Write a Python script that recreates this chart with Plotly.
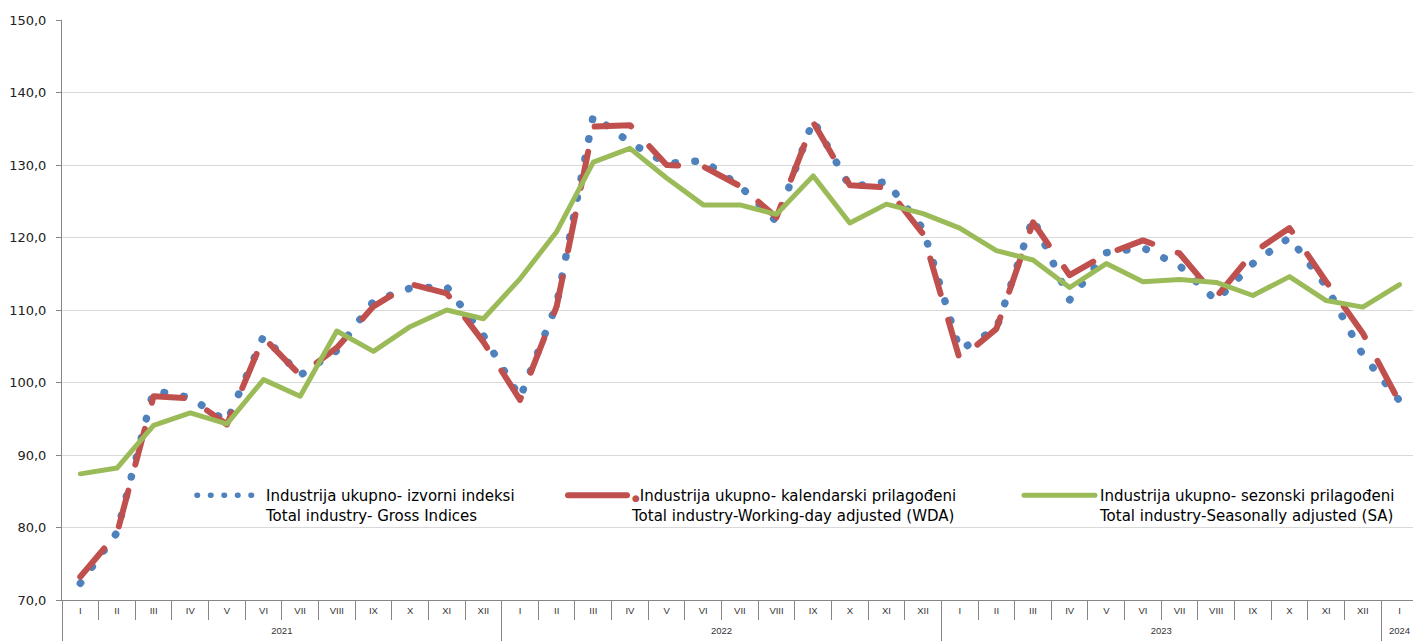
import plotly.graph_objects as go
import numpy as np

# ---------------- data ----------------
months = ["I", "II", "III", "IV", "V", "VI", "VII", "VIII", "IX", "X", "XI", "XII"] * 3 + ["I"]
years = ["2021"] * 12 + ["2022"] * 12 + ["2023"] * 12 + ["2024"]

gross = [72.3, 79.3, 98.9, 97.9, 94.6, 106.4, 101.0, 104.4, 111.2, 113.0, 113.2, 106.5,
         97.9, 110.8, 136.8, 133.1, 130.2, 130.6, 127.1, 122.2, 136.2, 127.0, 127.7, 121.2,
         104.5, 107.4, 122.7, 111.4, 117.9, 118.6, 116.1, 111.3, 116.4, 120.0, 113.3, 103.8,
         97.5]

wda = [73.2, 79.2, 98.1, 97.8, 94.2, 106.2, 101.0, 104.8, 110.5, 113.6, 112.3, 105.6,
       97.6, 110.5, 135.3, 135.5, 130.0, 129.8, 127.1, 122.8, 135.9, 127.2, 126.9, 120.5,
       103.2, 107.4, 122.1, 114.8, 117.7, 119.6, 117.8, 111.8, 117.9, 121.3, 113.9, 106.8,
       97.3]

sa = [87.4, 88.2, 94.1, 95.8, 94.3, 100.4, 98.1, 107.1, 104.3, 107.7, 110.0, 108.8,
      114.3, 120.8, 130.4, 132.3, 128.2, 124.5, 124.5, 123.2, 128.5, 122.0, 124.6, 123.3,
      121.3, 118.2, 116.9, 113.1, 116.4, 113.9, 114.2, 113.8, 112.0, 114.6, 111.3, 110.4,
      113.5]

name_gross = "Industrija ukupno- izvorni indeksi<br>Total industry- Gross Indices"
name_wda = ("<span style='color:#C0504D;font-size:9px'>\u25CF</span>Industrija ukupno- kalendarski prilagođeni"
            "<br>Total industry-Working-day adjusted (WDA)")
name_sa = "Industrija ukupno- sezonski prilagođeni<br>Total industry-Seasonally adjusted (SA)"

BLUE = "#4F81BD"
RED = "#C0504D"
GREEN = "#9BBB59"
AX = "#868686"
GRID = "#D9D9D9"

n = len(months)
idx = np.arange(n)
xr = [-0.5, n - 0.63]

# year groups (derived from the years list)
year_labels = []
year_centers = []
year_bounds = []
for i, yv in enumerate(years):
    if i == 0 or yv != years[i - 1]:
        year_bounds.append(i - 0.5)
        year_labels.append(yv)
        members = [j for j in range(n) if years[j] == yv]
        year_centers.append(float(np.mean(members)))
year_bounds.append(n - 0.5)

fig = go.Figure()
fig.add_trace(go.Scatter(x=idx, y=gross, mode="lines", showlegend=False, hoverinfo="skip",
                         line=dict(color=BLUE, width=7.5, dash="0.5px,19.5px")))
fig.add_trace(go.Scatter(x=idx, y=wda, mode="lines", showlegend=False, hoverinfo="skip",
                         line=dict(color=RED, width=6, dash="37px,27px")))
fig.add_trace(go.Scatter(x=idx, y=sa, mode="lines", showlegend=False, hoverinfo="skip",
                         line=dict(color=GREEN, width=5)))

# legend-only entries (placed on the helper axes)
fig.add_trace(go.Scatter(x=[None], y=[None], mode="lines", name=name_gross, legend="legend",
                         xaxis="x2", line=dict(color=BLUE, width=5.5, dash="0.5px,13px")))
fig.add_trace(go.Scatter(x=[None], y=[None], mode="lines", name=name_wda, legend="legend2",
                         xaxis="x3", line=dict(color=RED, width=6)))
fig.add_trace(go.Scatter(x=[None], y=[None], mode="lines", name=name_sa, legend="legend3",
                         xaxis="x4", line=dict(color=GREEN, width=5)))

legfont = dict(family="DejaVu Sans", size=15, color="#000000")


def leg(px_left, py_top, w):
    return dict(x=(px_left - 62) / 1351, y=(600 - py_top) / 580, xanchor="left", yanchor="top",
                valign="top", font=legfont, bgcolor="rgba(0,0,0,0)", itemwidth=w)


helper = dict(overlaying="x", anchor="y", side="bottom", range=xr, showgrid=False,
              zeroline=False, showline=False, automargin=False, tickcolor=AX)

fig.update_layout(
    width=1413, height=641,
    margin=dict(l=62, r=0, t=20, b=41, autoexpand=False),
    paper_bgcolor="white", plot_bgcolor="white",
    separators=",.",
    xaxis=dict(range=xr, tickvals=idx, ticktext=months, showline=True, linecolor=AX,
               linewidth=1, ticks="", showgrid=False, zeroline=False, automargin=False,
               tickfont=dict(family="Liberation Sans", size=9.5, color="#333333"),
               ticklabelstandoff=2),
    # month boundary ticks
    xaxis2=dict(helper, tickvals=list(idx - 0.5) + [n - 0.5], ticks="outside", ticklen=19,
                showticklabels=False),
    # year boundary dividers
    xaxis3=dict(helper, tickvals=year_bounds, ticks="outside", ticklen=41,
                showticklabels=False),
    # year labels
    xaxis4=dict(helper, tickvals=year_centers, ticktext=year_labels, ticks="",
                tickfont=dict(family="Liberation Sans", size=9.5, color="#333333"),
                ticklabelstandoff=23),
    yaxis=dict(range=[70, 150], dtick=10, tick0=70, tickformat=".1f", showgrid=True,
               gridcolor=GRID, gridwidth=1, showline=True, linecolor=AX, linewidth=1,
               ticks="outside", ticklen=5, tickcolor=AX, zeroline=False, automargin=False,
               tickfont=dict(family="DejaVu Sans", size=13, color="#222222"),
               ticklabelstandoff=7),
    legend=leg(192, 479, 64),
    legend2=leg(563, 479, 59),
    legend3=leg(1019, 479, 71),
)

post = ("document.body.style.margin='0';"
        "var s=document.createElement('style');"
        "s.textContent='body{margin:0}path.js-line{stroke-linecap:round;stroke-linejoin:round}';"
        "document.head.appendChild(s);")

fig.write_html("out.html", post_script=post, config={"displayModeBar": False})
